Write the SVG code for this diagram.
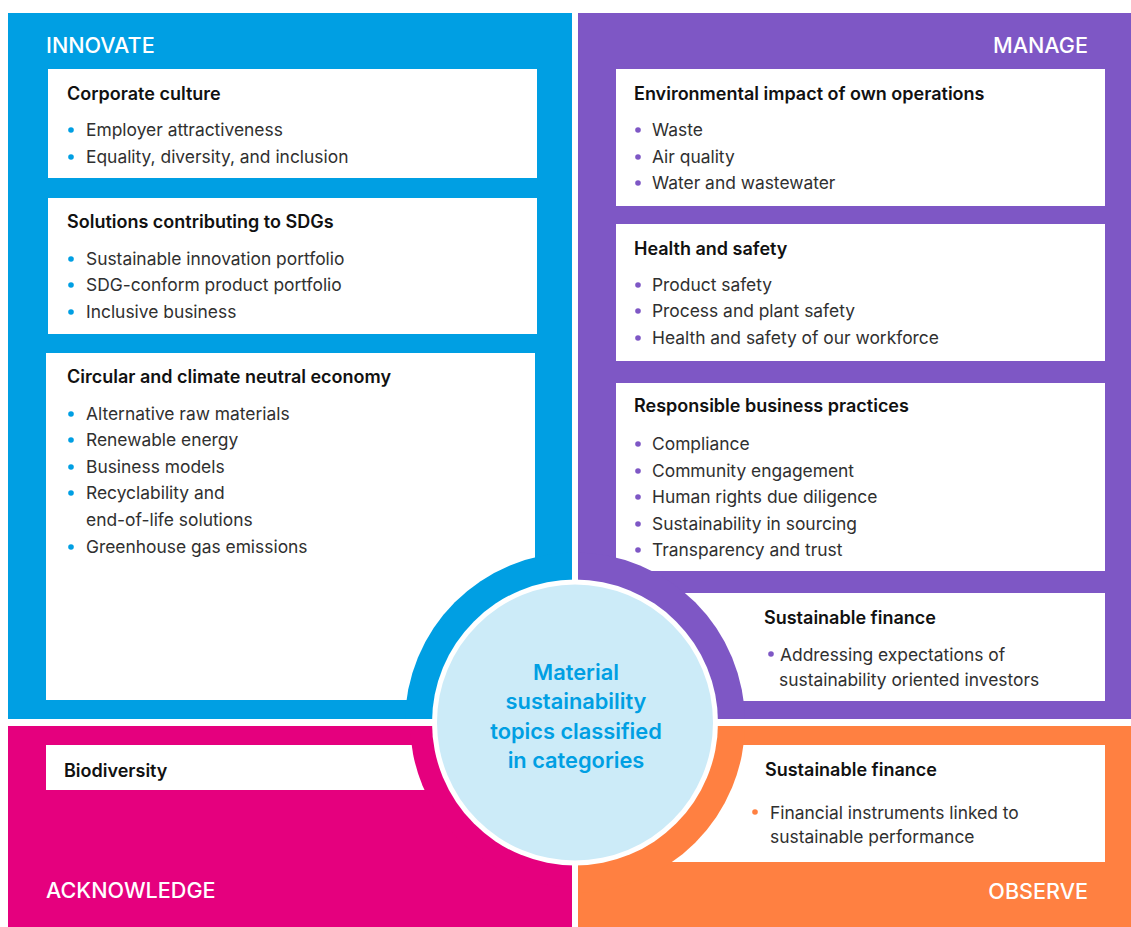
<svg xmlns="http://www.w3.org/2000/svg" width="1131" height="927" viewBox="0 0 1131 927">
<defs>
<style>
.q-label{font-family:Inter,"Liberation Sans",sans-serif;font-size:21.6px;font-weight:500;fill:#ffffff}
.title{font-family:Inter,"Liberation Sans",sans-serif;font-size:18px;font-weight:600;fill:#111111}
.item{font-family:Inter,"Liberation Sans",sans-serif;font-size:17.4px;font-weight:400;fill:#303030}
.box{fill:#ffffff}
.center{font-family:Inter,"Liberation Sans",sans-serif;font-size:21.8px;font-weight:600;fill:#009FE3}
.b-blue{fill:#009FE3}
.b-purple{fill:#7E57C5}
.b-orange{fill:#FF8041}
</style>
<clipPath id="clip-tl"><rect x="8" y="13" width="564" height="706"/></clipPath>
<clipPath id="clip-tr"><rect x="578" y="13" width="553" height="706"/></clipPath>
<clipPath id="clip-bl"><rect x="8" y="726" width="564" height="201"/></clipPath>
<clipPath id="clip-br"><rect x="578" y="726" width="553" height="201"/></clipPath>
</defs>
<rect width="1131" height="927" fill="#ffffff"/>

<g id="quadrant-innovate">
<rect x="8" y="13" width="564" height="706" fill="#009FE3"/>
<text class="q-label" x="46" y="53">INNOVATE</text>
<g id="node-corporate-culture">
<rect class="box" x="48" y="69" width="489" height="109"/>
<text class="title" x="67" y="100">Corporate culture</text>
<circle class="b-blue" cx="71" cy="130" r="2.8"/>
<text class="item" x="86" y="136">Employer attractiveness</text>
<circle class="b-blue" cx="71" cy="157" r="2.8"/>
<text class="item" x="86" y="163">Equality, diversity, and inclusion</text>
</g>
<g id="node-solutions-sdgs">
<rect class="box" x="48" y="198" width="489" height="136"/>
<text class="title" x="67" y="228">Solutions contributing to SDGs</text>
<circle class="b-blue" cx="71" cy="259" r="2.8"/>
<text class="item" x="86" y="265">Sustainable innovation portfolio</text>
<circle class="b-blue" cx="71" cy="285" r="2.8"/>
<text class="item" x="86" y="291">SDG-conform product portfolio</text>
<circle class="b-blue" cx="71" cy="312" r="2.8"/>
<text class="item" x="86" y="318">Inclusive business</text>
</g>
<g id="node-circular-economy">
<rect class="box" x="46" y="353" width="489" height="347"/>
<text class="title" x="67" y="383">Circular and climate neutral economy</text>
<circle class="b-blue" cx="71" cy="414" r="2.8"/>
<text class="item" x="86" y="420">Alternative raw materials</text>
<circle class="b-blue" cx="71" cy="440" r="2.8"/>
<text class="item" x="86" y="446">Renewable energy</text>
<circle class="b-blue" cx="71" cy="467" r="2.8"/>
<text class="item" x="86" y="473">Business models</text>
<circle class="b-blue" cx="71" cy="493" r="2.8"/>
<text class="item" x="86" y="499">Recyclability and</text>
<text class="item" x="86" y="526">end-of-life solutions</text>
<circle class="b-blue" cx="71" cy="547" r="2.8"/>
<text class="item" x="86" y="553">Greenhouse gas emissions</text>
</g>
<circle cx="575" cy="722.5" r="170" fill="#009FE3" clip-path="url(#clip-tl)"/>
</g>

<g id="quadrant-manage">
<rect x="578" y="13" width="553" height="706" fill="#7E57C5"/>
<text class="q-label" x="1088" y="53" text-anchor="end">MANAGE</text>
<g id="node-environmental-impact">
<rect class="box" x="616" y="69" width="489" height="137"/>
<text class="title" x="634" y="100">Environmental impact of own operations</text>
<circle class="b-purple" cx="638" cy="130" r="2.8"/>
<text class="item" x="652" y="136">Waste</text>
<circle class="b-purple" cx="638" cy="157" r="2.8"/>
<text class="item" x="652" y="163">Air quality</text>
<circle class="b-purple" cx="638" cy="183" r="2.8"/>
<text class="item" x="652" y="189">Water and wastewater</text>
</g>
<g id="node-health-safety">
<rect class="box" x="616" y="224" width="489" height="137"/>
<text class="title" x="634" y="255">Health and safety</text>
<circle class="b-purple" cx="638" cy="285" r="2.8"/>
<text class="item" x="652" y="291">Product safety</text>
<circle class="b-purple" cx="638" cy="311" r="2.8"/>
<text class="item" x="652" y="317">Process and plant safety</text>
<circle class="b-purple" cx="638" cy="338" r="2.8"/>
<text class="item" x="652" y="344">Health and safety of our workforce</text>
</g>
<g id="node-responsible-business">
<rect class="box" x="616" y="383" width="489" height="188"/>
<text class="title" x="634" y="412">Responsible business practices</text>
<circle class="b-purple" cx="638" cy="444" r="2.8"/>
<text class="item" x="652" y="450">Compliance</text>
<circle class="b-purple" cx="638" cy="471" r="2.8"/>
<text class="item" x="652" y="477">Community engagement</text>
<circle class="b-purple" cx="638" cy="497" r="2.8"/>
<text class="item" x="652" y="503">Human rights due diligence</text>
<circle class="b-purple" cx="638" cy="524" r="2.8"/>
<text class="item" x="652" y="530">Sustainability in sourcing</text>
<circle class="b-purple" cx="638" cy="550" r="2.8"/>
<text class="item" x="652" y="556">Transparency and trust</text>
</g>
<g id="node-sustainable-finance-manage">
<rect class="box" x="640" y="593" width="465" height="108"/>
<text class="title" x="764" y="624">Sustainable finance</text>
<circle class="b-purple" cx="771" cy="654" r="2.8"/>
<text class="item" x="780" y="661">Addressing expectations of</text>
<text class="item" x="779" y="686">sustainability oriented investors</text>
</g>
<circle cx="575" cy="722.5" r="170" fill="#7E57C5" clip-path="url(#clip-tr)"/>
</g>

<g id="quadrant-acknowledge">
<rect x="8" y="726" width="564" height="201" fill="#E5007E"/>
<text class="q-label" x="46" y="898">ACKNOWLEDGE</text>
<g id="node-biodiversity">
<rect class="box" x="46" y="745" width="420" height="45"/>
<text class="title" x="64" y="777">Biodiversity</text>
</g>
<circle cx="575" cy="722.5" r="165" fill="#E5007E" clip-path="url(#clip-bl)"/>
</g>

<g id="quadrant-observe">
<rect x="578" y="726" width="553" height="201" fill="#FF8041"/>
<text class="q-label" x="1088" y="899" text-anchor="end">OBSERVE</text>
<g id="node-sustainable-finance-observe">
<rect class="box" x="640" y="745" width="465" height="117"/>
<text class="title" x="765" y="776">Sustainable finance</text>
<circle class="b-orange" cx="755" cy="812" r="2.8"/>
<text class="item" x="770" y="819">Financial instruments linked to</text>
<text class="item" x="770" y="843">sustainable performance</text>
</g>
<circle cx="575" cy="722.5" r="170" fill="#FF8041" clip-path="url(#clip-br)"/>
</g>

<g id="node-center">
<circle cx="575" cy="722.5" r="143" fill="#ffffff"/>
<circle cx="575" cy="722.5" r="138" fill="#CCEBF8"/>
<text class="center" x="576" y="680" text-anchor="middle">Material</text>
<text class="center" x="576" y="709" text-anchor="middle">sustainability</text>
<text class="center" x="576" y="739" text-anchor="middle">topics classified</text>
<text class="center" x="576" y="768" text-anchor="middle">in categories</text>
</g>

<g id="connectors"/>
</svg>
